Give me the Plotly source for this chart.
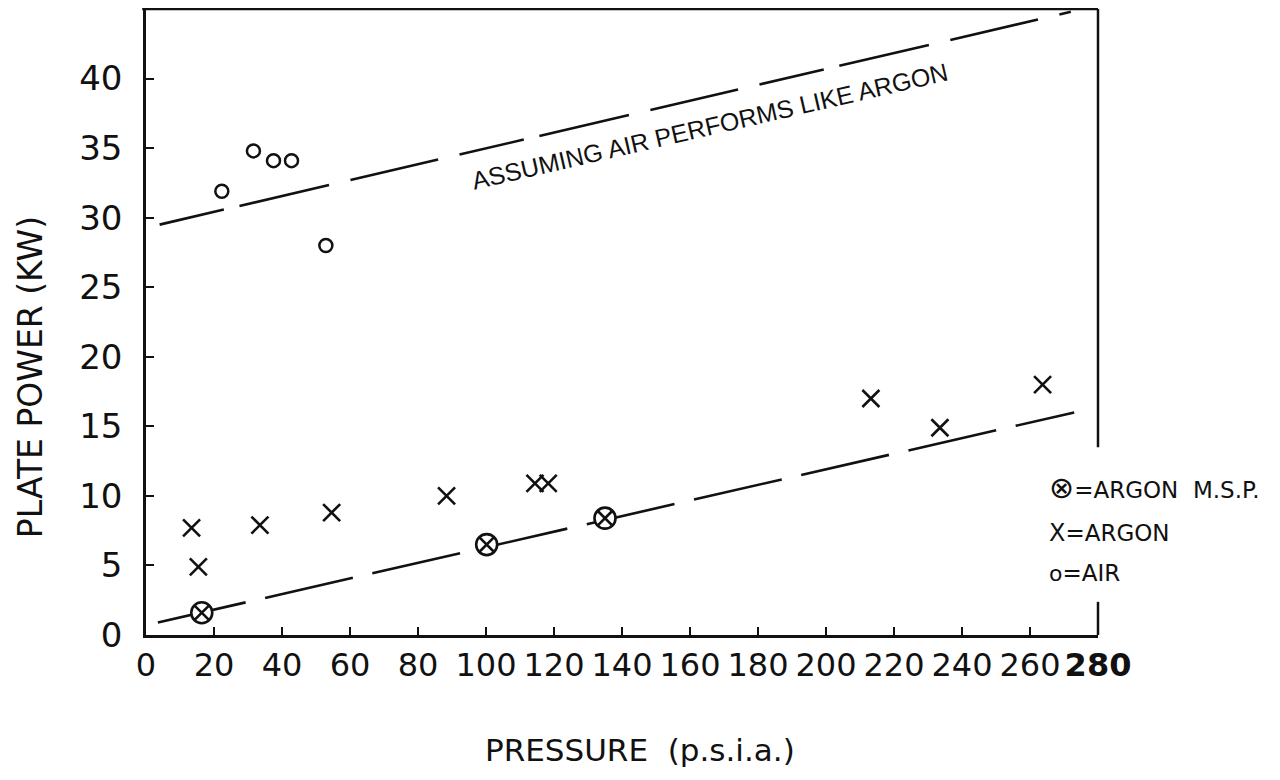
import plotly.graph_objects as go

# ---- data ----
air_p = [22.3, 31.6, 37.5, 42.8, 52.9]
air_kw = [31.9, 34.8, 34.1, 34.1, 28.0]

argon_p = [13.4, 15.4, 33.5, 54.6, 88.4, 114.4, 118.3, 213.2, 233.5, 263.7]
argon_kw = [7.7, 4.9, 7.9, 8.8, 10.0, 10.9, 10.9, 17.0, 14.9, 18.0]

msp_p = [16.4, 100.2, 135.0]
msp_kw = [1.6, 6.5, 8.4]

fit_p = [3.5, 273.0]
fit_kw = [0.9, 16.0]

air_fit_p = [4.0, 272.0]
air_fit_kw = [29.5, 44.8]

x_ticks = list(range(0, 281, 20))
x_ticktext = [str(v) for v in x_ticks[:-1]] + ["<b>280</b>"]
y_ticks = list(range(0, 41, 5))

legend_symbols = ["\u2297", "X", "o"]
legend_labels = ["=ARGON  M.S.P.", "=ARGON", "=AIR"]
line_label = "ASSUMING AIR PERFORMS LIKE ARGON"
x_title = "PRESSURE  (p.s.i.a.)"
y_title = "PLATE POWER (KW)"

INK = "#111111"
FONT = "DejaVu Sans"

fig = go.Figure()

fig.add_trace(go.Scatter(x=fit_p, y=fit_kw, mode="lines",
                         line=dict(color=INK, width=2.6, dash="90px,20px"),
                         showlegend=False, hoverinfo="skip"))
fig.add_trace(go.Scatter(x=air_fit_p, y=air_fit_kw, mode="lines",
                         line=dict(color=INK, width=2.6, dash="66px,16px,92px,22px,90px,22px"),
                         showlegend=False, hoverinfo="skip"))

fig.add_trace(go.Scatter(x=air_p, y=air_kw, mode="markers",
                         marker=dict(symbol="circle-open", size=13, color=INK,
                                     line=dict(width=2.5, color=INK)),
                         showlegend=False))
fig.add_trace(go.Scatter(x=argon_p, y=argon_kw, mode="markers",
                         marker=dict(symbol="x-thin-open", size=17, color=INK,
                                     line=dict(width=2.6, color=INK)),
                         showlegend=False))
fig.add_trace(go.Scatter(x=msp_p, y=msp_kw, mode="markers",
                         marker=dict(symbol="circle-x", size=21, color="white",
                                     line=dict(width=2.6, color=INK)),
                         showlegend=False))

# the page body has an 8px margin, so the figure is offset by 8px
fig.update_layout(
    width=1272, height=772,
    margin=dict(l=138, r=182, t=1, b=145),
    paper_bgcolor="white", plot_bgcolor="white",
    font=dict(family=FONT, color=INK),
)

fig.update_xaxes(range=[0, 280], tickvals=x_ticks, ticktext=x_ticktext,
                 ticks="inside", ticklen=8, tickwidth=2, tickcolor=INK,
                 showline=True, linecolor=INK, linewidth=2.5, mirror=False,
                 showgrid=False, zeroline=False,
                 tickfont=dict(family=FONT, size=32, color=INK),
                 ticklabelstandoff=0)
fig.update_yaxes(range=[0, 45], tickvals=y_ticks,
                 ticks="inside", ticklen=8, tickwidth=2, tickcolor=INK,
                 showline=True, linecolor=INK, linewidth=2.5, mirror=False,
                 showgrid=False, zeroline=False,
                 tickfont=dict(family=FONT, size=34, color=INK),
                 ticklabelstandoff=14)

# frame: top line and broken right line
fig.add_shape(type="line", xref="paper", yref="paper", x0=-0.004, x1=1, y0=1, y1=1,
              line=dict(color=INK, width=2.5))
fig.add_shape(type="line", xref="paper", yref="paper", x0=1, x1=1, y0=1, y1=0.30,
              line=dict(color=INK, width=2.5))
fig.add_shape(type="line", xref="paper", yref="paper", x0=1, x1=1, y0=0.053, y1=0,
              line=dict(color=INK, width=2.5))

# line label
fig.add_annotation(x=166, y=36.6, xref="x", yref="y", text=line_label,
                   showarrow=False, textangle=-13,
                   font=dict(family="Liberation Sans", size=25, color=INK),
                   xanchor="center", yanchor="middle")

# axis titles
fig.add_annotation(x=-0.1218, y=0.412, xref="paper", yref="paper", text=y_title,
                   showarrow=False, textangle=-90,
                   font=dict(family=FONT, size=33, color=INK),
                   xanchor="center", yanchor="middle")
fig.add_annotation(x=0.519, y=-0.1837, xref="paper", yref="paper", text=x_title,
                   showarrow=False,
                   font=dict(family=FONT, size=31, color=INK),
                   xanchor="center", yanchor="middle")

# legend text
sym_sizes = [30, 24, 22]
for sym, label, yp, ss in zip(legend_symbols, legend_labels, [0.2364, 0.1629, 0.099], sym_sizes):
    fig.add_annotation(x=0.9464, y=yp, xref="paper", yref="paper",
                       text=f"<span style='font-size:{ss}px'>{sym}</span>{label}",
                       showarrow=False, font=dict(family=FONT, size=23, color=INK),
                       xanchor="left", yanchor="middle")

fig.write_html("out.html")
